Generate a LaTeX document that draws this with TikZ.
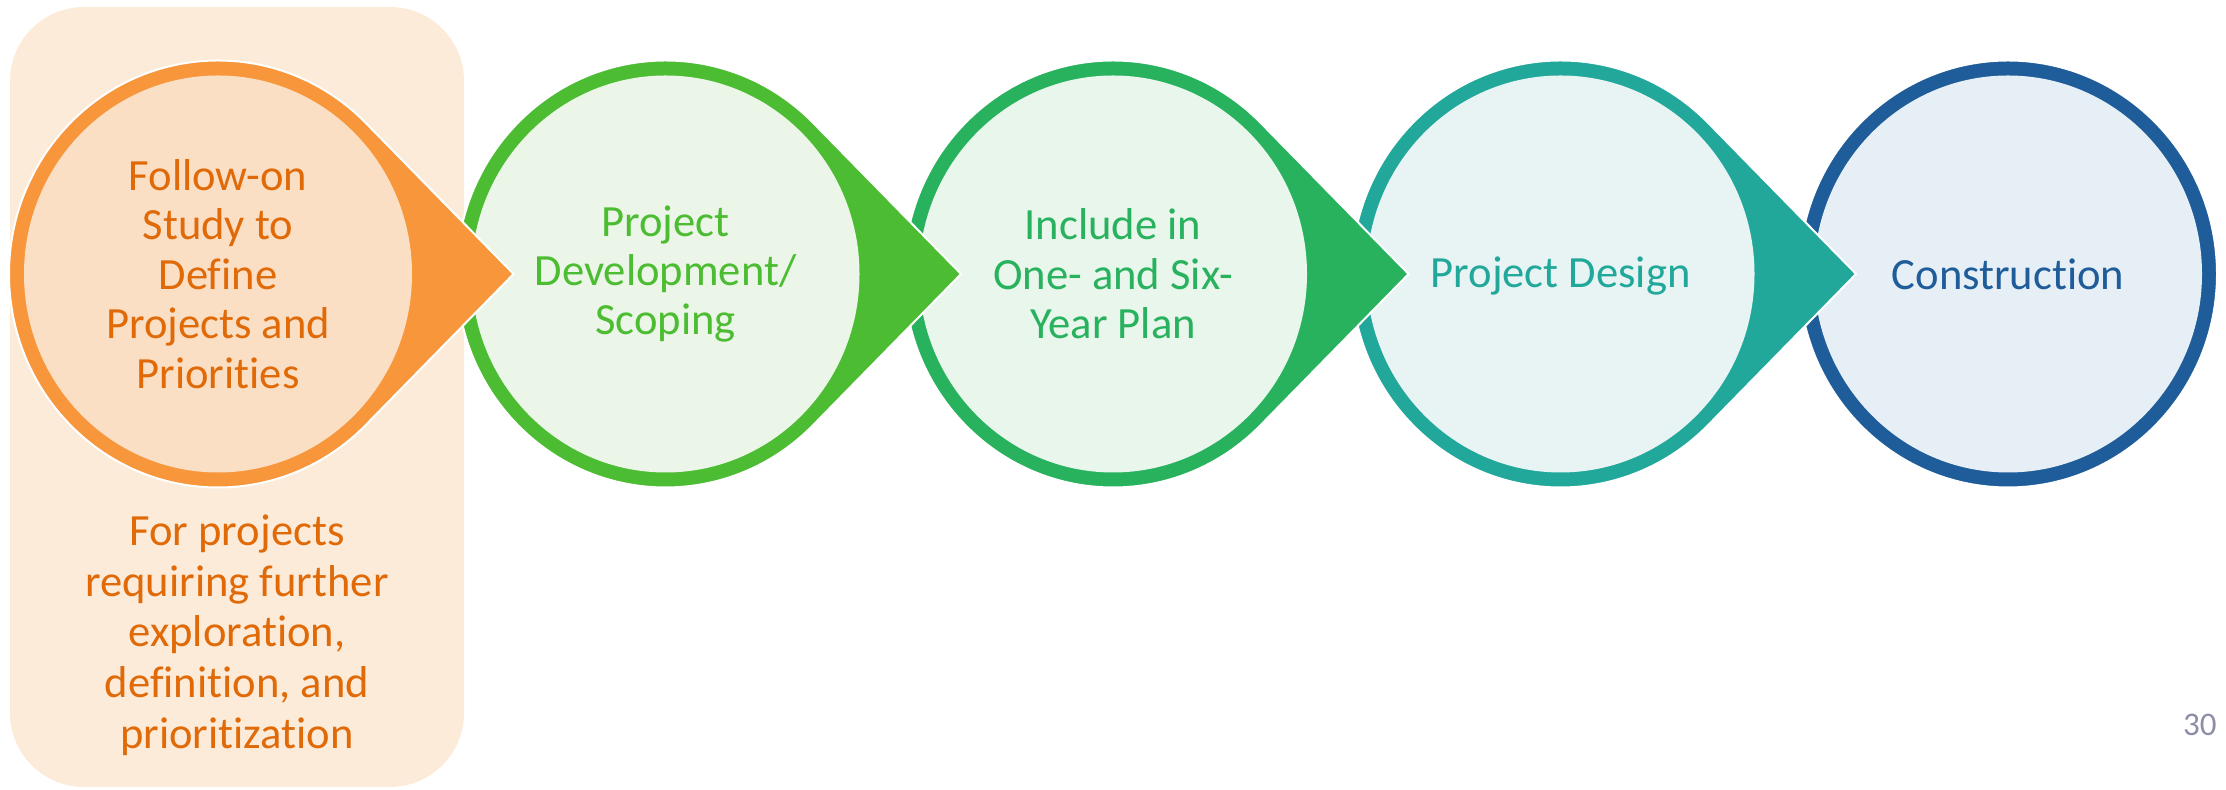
\documentclass[tikz,border=0pt]{standalone}
\usepackage{fontspec}
\setmainfont{Carlito}[Ligatures=NoCommon]
\usetikzlibrary{positioning}
\definecolor{orange_bg}{HTML}{FDEBD9}
\definecolor{orange_out}{HTML}{F7963A}
\definecolor{orange_fil}{HTML}{FBDFC5}
\definecolor{orange_txt}{HTML}{E06A08}
\definecolor{lime_out}{HTML}{4CBC32}
\definecolor{lime_fil}{HTML}{EBF6E8}
\definecolor{green_out}{HTML}{28B25E}
\definecolor{green_fil}{HTML}{E8F6EC}
\definecolor{teal_out}{HTML}{21A89B}
\definecolor{teal_fil}{HTML}{E7F4F3}
\definecolor{blue_out}{HTML}{1F5D9A}
\definecolor{blue_fil}{HTML}{E6EEF6}
\definecolor{page_txt}{HTML}{8C8EA6}
\newcommand\wid{223.75pt}
\newcommand\rx{104.5pt}
\newcommand\ry{106.75pt}
\newcommand\ring{7.5pt}
\newcommand\cy{258pt}
\tikzset{stage_text/.style = {align=center, inner sep=0pt, font=\fontsize{22.3}{24.7}\selectfont}}
\tikzset{tear/.style = {draw=white, line width=1pt}}

\begin{document}
\begin{tikzpicture}
\useasboundingbox (0,0) rectangle (1113pt,395pt);
\fill[orange_bg, rounded corners=37pt] (5pt,1.5pt) rectangle (232pt,391.5pt);

\foreach \i/\out/\fil in {5/blue_out/blue_fil, 4/teal_out/teal_fil, 3/green_out/green_fil, 2/lime_out/lime_fil, 1/orange_out/orange_fil}{
	\begin{scope}[shift={(109pt+\wid*\i-\wid,\cy)}]
	\ifnum\i<5
		\filldraw[tear, fill=\out] (1.4142*\rx,0) -- ({0.7071*\rx},{0.7071*\ry}) arc[start angle=45, end angle=315, x radius=\rx, y radius=\ry] -- cycle;
	\else
		\filldraw[tear, fill=\out] (0,0) ellipse[x radius=\rx, y radius=\ry];
	\fi
	\fill[\fil] (0,0) ellipse[x radius=\rx-\ring, y radius=\ry-\ring];
	\end{scope}
	}

\node[stage_text, text=orange_txt] (study) at (109pt,\cy) {Follow-on\\Study to\\Define\\Projects and\\Priorities};
\node[stage_text, text=lime_out] (scoping) at (109pt+\wid,\cy) {Project\\Development/\\Scoping};
\node[stage_text, text=green_out] (plan) at (109pt+2*\wid,\cy) {Include in\\One- and Six-\\Year Plan};
\node[stage_text, text=teal_out] (design) at (109pt+3*\wid,\cy-1pt) {Project Design};
\node[stage_text, text=blue_out] (build) at (109pt+4*\wid,\cy) {Construction};

\node[stage_text, text=orange_txt, font=\fontsize{22.3}{25.4}\selectfont] (note) at (118.5pt,77.4pt) {For projects\\requiring further\\exploration,\\definition, and\\prioritization};
\node[anchor=base east, inner sep=0pt, text=page_txt, font=\fontsize{16.5}{19}\selectfont] (page) at (1108.5pt,27pt) {30};
\end{tikzpicture}
\end{document}
